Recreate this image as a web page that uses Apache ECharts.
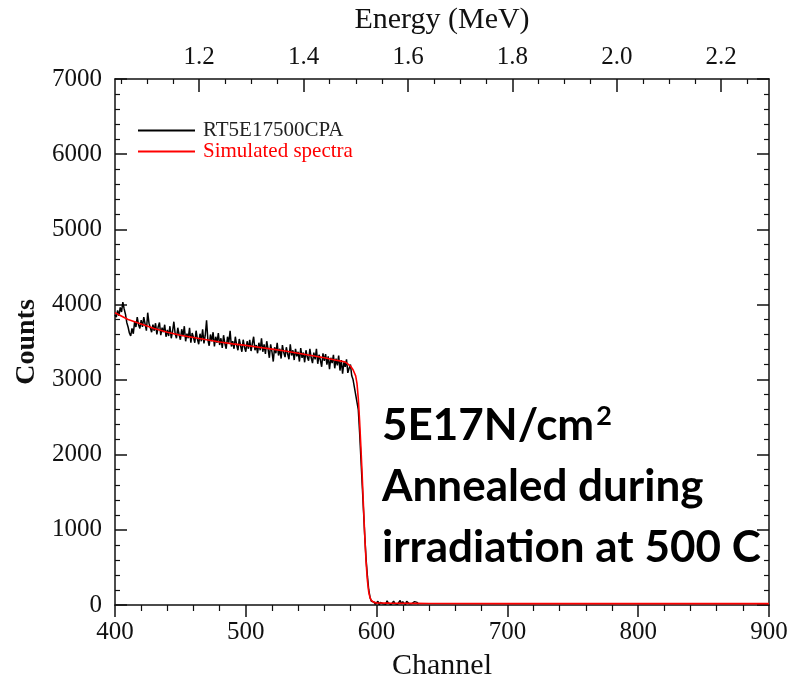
<!DOCTYPE html>
<html>
<head>
<meta charset="utf-8">
<script src="https://cdn.jsdelivr.net/npm/echarts@6/dist/echarts.min.js"></script>
<style>
  html, body { margin: 0; padding: 0; background: #fff; }
  #chart { width: 791px; height: 683px; }
</style>
</head>
<body>
<div id="chart"></div>
<script>
// Measured spectrum (RT5E17500CPA), one value per channel starting at 400
const measStart = 400;
const measCounts = [
    3860, 3830, 3920, 3850, 3960, 3900, 4030, 3940, 3870, 3760,
    3700, 3620, 3580, 3680, 3610, 3770, 3700, 3830, 3730, 3680,
    3790, 3700, 3830, 3740, 3650, 3890, 3750, 3690, 3630, 3730,
    3650, 3750, 3600, 3700, 3760, 3590, 3690, 3630, 3730, 3570,
    3660, 3580, 3710, 3550, 3640, 3770, 3610, 3550, 3690, 3600,
    3530, 3670, 3580, 3710, 3510, 3610, 3550, 3690, 3490, 3620,
    3560, 3490, 3650, 3540, 3470, 3610, 3510, 3670, 3480, 3590,
    3790, 3530, 3450, 3600, 3510, 3630, 3440, 3570, 3490, 3620,
    3460, 3550, 3420, 3590, 3480, 3410, 3570, 3490, 3650, 3440,
    3510, 3410, 3570, 3460, 3390, 3540, 3450, 3370, 3530, 3430,
    3370, 3510, 3410, 3530, 3380, 3480, 3570, 3390, 3460, 3350,
    3490, 3390, 3550, 3370, 3470, 3340, 3510, 3410, 3290, 3470,
    3370, 3240, 3430, 3350, 3490, 3320, 3410, 3280, 3460, 3360,
    3300, 3430, 3340, 3270, 3470, 3320, 3390, 3260, 3410, 3310,
    3370, 3240, 3420, 3290, 3360, 3230, 3390, 3300, 3250, 3410,
    3290, 3220, 3360, 3270, 3410, 3210, 3330, 3260, 3170, 3350,
    3250, 3340, 3200, 3310, 3140, 3290, 3220, 3330, 3150, 3280,
    3190, 3320, 3120, 3260, 3080, 3230, 3170, 3270, 3090, 3150,
    3200, 3050, 3000, 2900, 2800, 2700, 2600, 2300, 1950, 1600,
    1250, 900, 600, 380, 200, 100, 50, 25, 40, 10,
    20, 50, 5, 35, 60, 15, 40, 10, 55, 25,
    45, 5, 30, 50, 20, 40, 10, 35, 60, 15,
    45, 25, 5, 50, 30, 15, 40, 20, 10, 45,
    25, 35, 10
];

// Simulated spectrum
const simChannels = [400, 410, 420, 430, 440, 450, 460, 470, 480, 490, 500, 510, 520, 530, 540,
    550, 560, 570, 576, 580, 582, 584, 585, 586, 587, 588, 589, 590, 591, 592, 593, 594, 595,
    596, 598, 600, 610, 630, 640, 700, 800, 900];
const simCounts = [3890, 3800, 3740, 3680, 3630, 3590, 3560, 3530, 3500, 3475, 3455, 3430, 3405, 3380, 3350,
    3320, 3290, 3255, 3235, 3180, 3130, 3050, 2950, 2750, 2450, 2100, 1720, 1300, 900, 560, 320, 170, 95,
    60, 35, 28, 25, 22, 20, 18, 18, 18];

// Top axis (energy) ticks
const energyMin = 1.0386;
const energyMax = 2.2915;
const energyMajor = [1.2, 1.4, 1.6, 1.8, 2.0, 2.2];
const energyMinor = [1.05, 1.1, 1.15, 1.25, 1.3, 1.35, 1.45, 1.5, 1.55, 1.65, 1.7, 1.75,
    1.85, 1.9, 1.95, 2.05, 2.1, 2.15, 2.25];

const serif = 'Liberation Serif';
const ink = '#111';

const measData = measCounts.map((v, i) => [measStart + i, v]);
const simData = simChannels.map((c, i) => [c, simCounts[i]]);

const axisLineStyle = { color: ink, width: 1.5 };
const minorStyle = { color: ink, width: 1.2 };
const labelStyle = { fontFamily: serif, fontSize: 25, color: ink };
const nameStyle = { fontFamily: serif, fontSize: 30, color: ink };

const chart = echarts.init(document.getElementById('chart'));

chart.setOption({
    animation: false,
    backgroundColor: '#fff',
    grid: { left: 115, right: 22, top: 79, bottom: 78, outerBoundsMode: 'none', containLabel: false },
    legend: {
        left: 133,
        top: 115,
        orient: 'vertical',
        icon: 'rect',
        itemWidth: 57,
        itemHeight: 2,
        itemGap: 0,
        textStyle: { fontFamily: serif, fontSize: 21, lineHeight: 20, padding: [0, 0, 0, 3] },
        data: [
            { name: 'RT5E17500CPA', textStyle: { color: '#222' } },
            { name: 'Simulated spectra', textStyle: { color: '#ff0000' } }
        ]
    },
    xAxis: [
        {
            type: 'value',
            position: 'bottom',
            min: 400,
            max: 900,
            interval: 100,
            name: 'Channel',
            nameLocation: 'middle',
            nameGap: 46,
            nameTextStyle: nameStyle,
            axisLine: { onZero: false, lineStyle: axisLineStyle },
            axisTick: { inside: false, length: 12, lineStyle: axisLineStyle },
            minorTick: { show: true, splitNumber: 5, length: 6, lineStyle: minorStyle },
            axisLabel: Object.assign({ margin: 15 }, labelStyle),
            splitLine: { show: false }
        },
        {
            type: 'value',
            position: 'top',
            min: energyMin,
            max: energyMax,
            name: 'Energy (MeV)',
            nameLocation: 'middle',
            nameGap: 44,
            nameTextStyle: nameStyle,
            axisLine: { onZero: false, lineStyle: axisLineStyle },
            axisTick: { inside: true, length: 13, customValues: energyMajor, lineStyle: axisLineStyle },
            axisLabel: Object.assign({
                margin: 9,
                customValues: energyMajor,
                formatter: v => v.toFixed(1)
            }, labelStyle),
            splitLine: { show: false }
        },
        {
            type: 'value',
            position: 'top',
            min: energyMin,
            max: energyMax,
            axisLine: { show: false, onZero: false },
            axisTick: { inside: true, length: 5, customValues: energyMinor, lineStyle: minorStyle },
            axisLabel: { show: false },
            splitLine: { show: false }
        }
    ],
    yAxis: [
        {
            type: 'value',
            position: 'left',
            min: 0,
            max: 7000,
            interval: 1000,
            name: 'Counts',
            nameLocation: 'middle',
            nameGap: 66,
            nameTextStyle: Object.assign({}, nameStyle, { fontSize: 28, fontWeight: 'bold' }),
            axisLine: { show: true, onZero: false, lineStyle: axisLineStyle },
            axisTick: { show: true, inside: true, length: 12, lineStyle: axisLineStyle },
            minorTick: { show: true, splitNumber: 5, length: 5, lineStyle: minorStyle },
            axisLabel: Object.assign({ margin: 13, formatter: v => String(v) }, labelStyle),
            splitLine: { show: false }
        },
        {
            type: 'value',
            position: 'right',
            min: 0,
            max: 7000,
            interval: 1000,
            axisLine: { show: true, onZero: false, lineStyle: axisLineStyle },
            axisTick: { show: true, inside: true, length: 12, lineStyle: axisLineStyle },
            minorTick: { show: true, splitNumber: 5, length: 5, lineStyle: minorStyle },
            axisLabel: { show: false },
            splitLine: { show: false }
        }
    ],
    series: [
        {
            name: 'RT5E17500CPA',
            type: 'line',
            xAxisIndex: 0,
            yAxisIndex: 0,
            data: measData,
            showSymbol: false,
            color: '#000',
            lineStyle: { color: '#000', width: 1.5 }
        },
        {
            name: 'Simulated spectra',
            type: 'line',
            xAxisIndex: 0,
            yAxisIndex: 0,
            data: simData,
            showSymbol: false,
            color: '#ff0000',
            lineStyle: { color: '#ff0000', width: 1.6 }
        }
    ],
    graphic: [
        {
            type: 'text',
            left: 382,
            top: 395,
            style: {
                text: '{a|5E17N/cm}{s|2}\n{a|Annealed during}\n{a|irradiation at 500 C}',
                fill: '#000',
                rich: {
                    a: { fontFamily: 'Lato', fontWeight: 'bold', fontSize: 44, lineHeight: 61, fill: '#000' },
                    s: { fontFamily: 'Lato', fontWeight: 'bold', fontSize: 27, lineHeight: 61, verticalAlign: 'top', padding: [8, 0, 0, 2], fill: '#000' }
                }
            }
        }
    ]
});
</script>
</body>
</html>
